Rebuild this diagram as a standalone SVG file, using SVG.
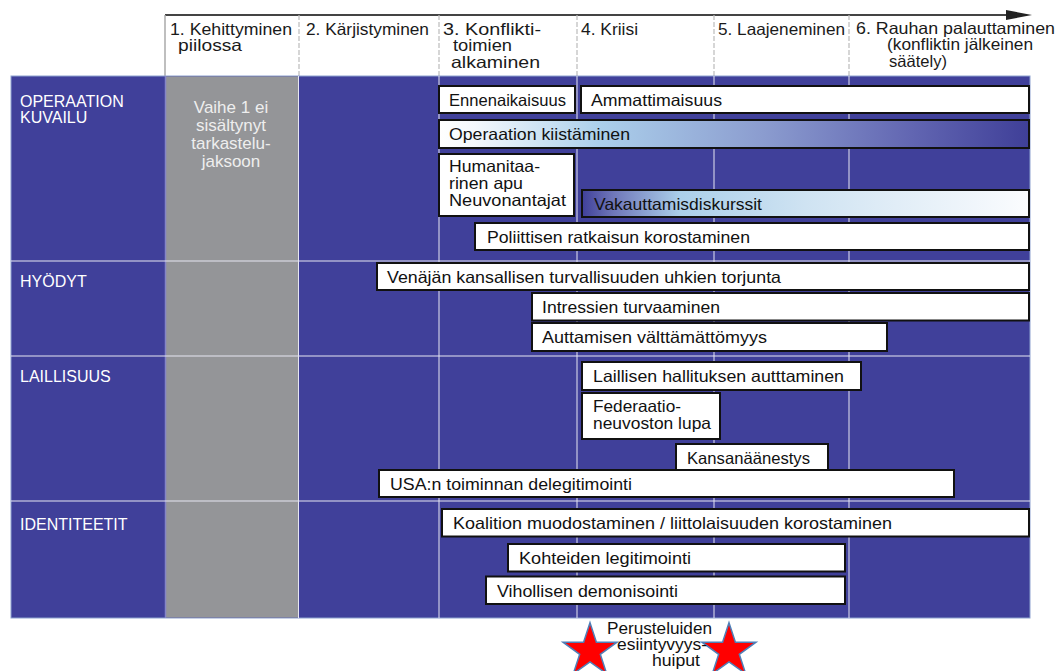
<svg xmlns="http://www.w3.org/2000/svg" width="1058" height="671" viewBox="0 0 1058 671">
<style>
text{font-family:"Liberation Sans",Arial,sans-serif;}
.hd{font-size:16.5px;fill:#1a1a1a;}
.bx{fill:#ffffff;stroke:#111111;stroke-width:2;}
.bt{font-size:16.5px;fill:#111111;}
.rl{font-size:16px;fill:#ffffff;}
.gt{font-size:17px;fill:#eeeeee;text-anchor:middle;}
.vdiv{stroke:#e6e6f2;stroke-width:1;}
.hdiv{stroke:#bbbbbb;stroke-width:1.2;stroke-dasharray:5 2;}
.star{fill:#ff0000;stroke:#4f7fb8;stroke-width:1.5;}
</style>
<defs>
<linearGradient id="gKiist" x1="0" y1="0" x2="1" y2="0">
<stop offset="0" stop-color="#ffffff"/>
<stop offset="0.06" stop-color="#f4f8fc"/>
<stop offset="0.27" stop-color="#acd0eb"/>
<stop offset="0.55" stop-color="#8b9ccf"/>
<stop offset="0.8" stop-color="#6266b2"/>
<stop offset="1" stop-color="#3f3f98"/>
</linearGradient>
<linearGradient id="gVak" x1="0" y1="0" x2="1" y2="0">
<stop offset="0" stop-color="#40409a"/>
<stop offset="0.07" stop-color="#6f77b9"/>
<stop offset="0.22" stop-color="#abcfea"/>
<stop offset="0.5" stop-color="#cfe3f2"/>
<stop offset="1" stop-color="#fbfcfe"/>
</linearGradient>
<marker id="arrow" markerWidth="26" markerHeight="10" refX="0" refY="5" orient="auto" markerUnits="userSpaceOnUse">
<polygon points="0,0 26,5 0,10" fill="#222222"/>
</marker>
</defs>
<rect x="0" y="0" width="1058" height="671" fill="#ffffff"/>

<g id="header">
<line x1="165" y1="15" x2="1006" y2="15" stroke="#444444" stroke-width="2" marker-end="url(#arrow)"/>
<line x1="165" y1="15" x2="165" y2="76" stroke="#aaaaaa" stroke-width="1.5"/>
<line class="hdiv" x1="299" y1="15" x2="299" y2="76"/>
<line class="hdiv" x1="439" y1="15" x2="439" y2="76"/>
<line class="hdiv" x1="577" y1="15" x2="577" y2="76"/>
<line class="hdiv" x1="714" y1="15" x2="714" y2="76"/>
<line class="hdiv" x1="849" y1="15" x2="849" y2="76"/>
<text class="hd" x="170" y="34.5" textLength="122" lengthAdjust="spacingAndGlyphs">1. Kehittyminen</text>
<text class="hd" x="178" y="51" textLength="64" lengthAdjust="spacingAndGlyphs">piilossa</text>
<text class="hd" x="306" y="34.5" textLength="123" lengthAdjust="spacingAndGlyphs">2. Kärjistyminen</text>
<text class="hd" x="443" y="34.5" textLength="98" lengthAdjust="spacingAndGlyphs">3. Konflikti-</text>
<text class="hd" x="453" y="51" textLength="59" lengthAdjust="spacingAndGlyphs">toimien</text>
<text class="hd" x="451" y="67.5" textLength="89" lengthAdjust="spacingAndGlyphs">alkaminen</text>
<text class="hd" x="581" y="34.5" textLength="57" lengthAdjust="spacingAndGlyphs">4. Kriisi</text>
<text class="hd" x="718" y="34.5" textLength="127" lengthAdjust="spacingAndGlyphs">5. Laajeneminen</text>
<text class="hd" x="856" y="33.5" textLength="199" lengthAdjust="spacingAndGlyphs">6. Rauhan palauttaminen</text>
<text class="hd" x="887" y="50" textLength="146" lengthAdjust="spacingAndGlyphs">(konfliktin jälkeinen</text>
<text class="hd" x="889" y="66.5" textLength="58" lengthAdjust="spacingAndGlyphs">säätely)</text>
</g>

<g id="panel">
<rect x="11" y="76" width="1019" height="542" fill="#40409a" stroke="#8da2cf" stroke-width="1"/>
<rect x="166" y="76.5" width="132" height="541" fill="#949598"/>
<line x1="165.5" y1="76" x2="165.5" y2="618" stroke="#8585c8" stroke-width="1.5"/>
<line class="vdiv" x1="298.5" y1="76" x2="298.5" y2="618"/>
<line class="vdiv" x1="439" y1="76" x2="439" y2="618"/>
<line class="vdiv" x1="577" y1="76" x2="577" y2="618"/>
<line class="vdiv" x1="714" y1="76" x2="714" y2="618"/>
<line class="vdiv" x1="849" y1="76" x2="849" y2="618"/>
<line class="vdiv" x1="11" y1="261" x2="1030" y2="261"/>
<line class="vdiv" x1="11" y1="356" x2="1030" y2="356"/>
<line class="vdiv" x1="11" y1="501" x2="1030" y2="501"/>
<text class="gt" x="231" y="113">Vaihe 1 ei</text>
<text class="gt" x="231" y="131">sisältynyt</text>
<text class="gt" x="231" y="149">tarkastelu-</text>
<text class="gt" x="231" y="167">jaksoon</text>
</g>

<g id="row-operaation-kuvailu"><text class="rl" x="20" y="107">OPERAATION</text><text class="rl" x="20" y="123">KUVAILU</text></g>
<g id="row-hyodyt"><text class="rl" x="20" y="287">HYÖDYT</text></g>
<g id="row-laillisuus"><text class="rl" x="20" y="382">LAILLISUUS</text></g>
<g id="row-identiteetit"><text class="rl" x="20" y="530">IDENTITEETIT</text></g>

<g id="connectors"></g>

<g id="n-ennenaikaisuus"><rect class="bx" x="439" y="86" width="136" height="27"/><text class="bt" x="449" y="105.5" textLength="117" lengthAdjust="spacingAndGlyphs">Ennenaikaisuus</text></g>
<g id="n-ammattimaisuus"><rect class="bx" x="581" y="86" width="448" height="27"/><text class="bt" x="591" y="105.5" textLength="131" lengthAdjust="spacingAndGlyphs">Ammattimaisuus</text></g>
<g id="n-kiistaminen"><rect x="439" y="120" width="590" height="28" fill="url(#gKiist)" stroke="#111111" stroke-width="2"/><text class="bt" x="449" y="140" textLength="181" lengthAdjust="spacingAndGlyphs">Operaation kiistäminen</text></g>
<g id="n-humanitaarinen"><rect class="bx" x="439" y="154" width="135" height="62"/><text class="bt" x="449" y="172" textLength="91" lengthAdjust="spacingAndGlyphs">Humanitaa-</text><text class="bt" x="449" y="189" textLength="74" lengthAdjust="spacingAndGlyphs">rinen apu</text><text class="bt" x="449" y="206" textLength="117" lengthAdjust="spacingAndGlyphs">Neuvonantajat</text></g>
<g id="n-vakauttamis"><rect x="582" y="190" width="447" height="27" fill="url(#gVak)" stroke="#111111" stroke-width="2"/><text class="bt" x="594" y="209.5" textLength="168" lengthAdjust="spacingAndGlyphs">Vakauttamisdiskurssit</text></g>
<g id="n-poliittisen"><rect class="bx" x="475" y="223" width="554" height="27"/><text class="bt" x="487" y="242.5" textLength="263" lengthAdjust="spacingAndGlyphs">Poliittisen ratkaisun korostaminen</text></g>
<g id="n-venajan"><rect class="bx" x="377" y="263" width="652" height="27"/><text class="bt" x="387" y="283" textLength="394" lengthAdjust="spacingAndGlyphs">Venäjän kansallisen turvallisuuden uhkien torjunta</text></g>
<g id="n-intressien"><rect class="bx" x="532" y="293" width="497" height="27.5"/><text class="bt" x="542" y="313" textLength="178" lengthAdjust="spacingAndGlyphs">Intressien turvaaminen</text></g>
<g id="n-auttamisen"><rect class="bx" x="532" y="323" width="355" height="28"/><text class="bt" x="542" y="343" textLength="225" lengthAdjust="spacingAndGlyphs">Auttamisen välttämättömyys</text></g>
<g id="n-laillisen"><rect class="bx" x="582" y="362" width="279" height="28"/><text class="bt" x="593" y="382" textLength="251" lengthAdjust="spacingAndGlyphs">Laillisen hallituksen autttaminen</text></g>
<g id="n-federaatio"><rect class="bx" x="582" y="393" width="138" height="46"/><text class="bt" x="593" y="411.5" textLength="88" lengthAdjust="spacingAndGlyphs">Federaatio-</text><text class="bt" x="593" y="428.5" textLength="118" lengthAdjust="spacingAndGlyphs">neuvoston lupa</text></g>
<g id="n-kansanaanestys"><rect class="bx" x="676" y="444" width="152" height="28"/><text class="bt" x="687" y="463.5" textLength="123" lengthAdjust="spacingAndGlyphs">Kansanäänestys</text></g>
<g id="n-usa"><rect class="bx" x="379" y="470" width="575" height="27"/><text class="bt" x="390" y="490" textLength="242" lengthAdjust="spacingAndGlyphs">USA:n toiminnan delegitimointi</text></g>
<g id="n-koalition"><rect class="bx" x="442" y="509" width="587" height="27.5"/><text class="bt" x="453" y="529" textLength="439" lengthAdjust="spacingAndGlyphs">Koalition muodostaminen / liittolaisuuden korostaminen</text></g>
<g id="n-kohteiden"><rect class="bx" x="508" y="544" width="337" height="27.5"/><text class="bt" x="519" y="564" textLength="172" lengthAdjust="spacingAndGlyphs">Kohteiden legitimointi</text></g>
<g id="n-vihollisen"><rect class="bx" x="486" y="576.5" width="359" height="27.5"/><text class="bt" x="497" y="596.5" textLength="181" lengthAdjust="spacingAndGlyphs">Vihollisen demonisointi</text></g>

<g id="n-huiput">
<polygon class="star" points="590,622.7 596.4,642.2 617,642.2 600.3,654.3 606.7,673.8 590,661.8 573.3,673.8 579.7,654.3 563,642.2 583.6,642.2"/>
<polygon class="star" points="729,622.7 735.4,642.2 756,642.2 739.3,654.3 745.7,673.8 729,661.8 712.3,673.8 718.7,654.3 702,642.2 722.6,642.2"/>
<text class="bt" x="607" y="633.5" font-size="16" textLength="105" lengthAdjust="spacingAndGlyphs" style="font-size:16px">Perusteluiden</text>
<text class="bt" x="617" y="649.5" textLength="90" lengthAdjust="spacingAndGlyphs" style="font-size:16px">esiintyvyys-</text>
<text class="bt" x="652" y="665.5" textLength="48" lengthAdjust="spacingAndGlyphs" style="font-size:16px">huiput</text>
</g>
</svg>
